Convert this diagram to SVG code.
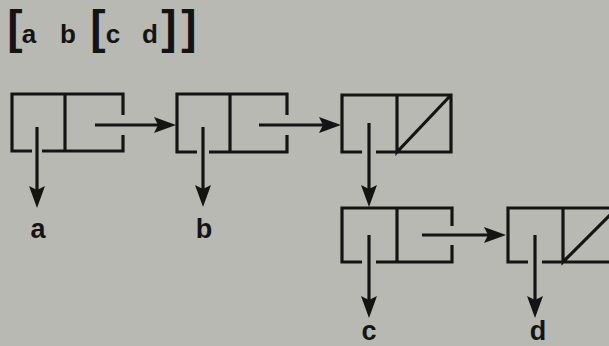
<svg xmlns="http://www.w3.org/2000/svg" width="609" height="346" viewBox="0 0 609 346">
<style>
.cell{fill:none;stroke:#141414;stroke-width:3.2;stroke-linejoin:miter}
.wire{fill:none;stroke:#141414;stroke-width:3.2}
.lbl{font-family:"Liberation Sans",Arial,sans-serif;font-weight:bold;font-size:27px;fill:#141414;text-anchor:middle}
.ttl{font-family:"Liberation Sans",Arial,sans-serif;font-weight:bold;font-size:26px;fill:#141414;text-anchor:middle}
.br{font-size:46px}
</style>
<defs>
<marker id="ah" viewBox="0 0 22 16" refX="13" refY="8" markerWidth="22" markerHeight="16" markerUnits="userSpaceOnUse" orient="auto">
<path d="M0,0 L22,8 L0,16 L4,8 Z" fill="#141414"/>
</marker>
</defs>
<rect width="609" height="346" fill="#b9b9b4"/>
<g id="title">
<text class="ttl br" x="15" y="43">[</text>
<text class="ttl" x="29" y="43">a</text>
<text class="ttl" x="68" y="43">b</text>
<text class="ttl br" x="98" y="43">[</text>
<text class="ttl" x="113" y="43">c</text>
<text class="ttl" x="150" y="43">d</text>
<text class="ttl br" x="169" y="43">]</text>
<text class="ttl br" x="189" y="43">]</text>
</g>
<g id="cell1">
<path class="cell" d="M32,151 H12 V94 H123 V115 M123,135 V151 H42 M65,94 V151"/>
</g>
<g id="cell2">
<path class="cell" d="M197,152 H177 V94 H287 V115 M287,135 V152 H209 M230,94 V152"/>
</g>
<g id="cell3">
<path class="cell" d="M362,152 H342 V95 H451 V152 H376 M397,95 V152 L451,95"/>
</g>
<g id="cell4">
<path class="cell" d="M362,262 H342 V208 H452 V226 M452,245 V262 H376 M397,208 V262"/>
</g>
<g id="cell5">
<path class="cell" d="M528,262 H508 V208 H617 V262 H542 M563,208 V262 L617,208"/>
</g>
<g id="label-a"><text class="lbl" x="38" y="238">a</text></g>
<g id="label-b"><text class="lbl" x="204" y="238">b</text></g>
<g id="label-c"><text class="lbl" x="369" y="340" font-size="25">c</text></g>
<g id="label-d"><text class="lbl" x="538" y="340" font-size="25">d</text></g>
<g id="connectors">
<path class="wire" d="M37,127 V199" marker-end="url(#ah)"/>
<path class="wire" d="M203,127 V198" marker-end="url(#ah)"/>
<path class="wire" d="M95,125 H167" marker-end="url(#ah)"/>
<path class="wire" d="M259,125 H332" marker-end="url(#ah)"/>
<path class="wire" d="M369,123 V198" marker-end="url(#ah)"/>
<path class="wire" d="M369,235 V309" marker-end="url(#ah)"/>
<path class="wire" d="M422,235 H497" marker-end="url(#ah)"/>
<path class="wire" d="M535,235 V309" marker-end="url(#ah)"/>
</g>
</svg>
